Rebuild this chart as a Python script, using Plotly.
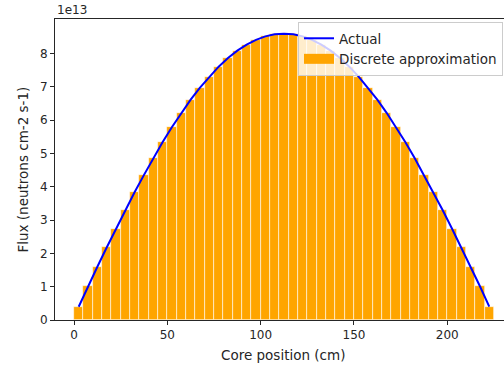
import plotly.graph_objects as go

# Core positions (cm) - bar centres
positions = [2.5, 7.5, 12.5, 17.5, 22.5, 27.5, 32.5, 37.5, 42.5, 47.5,
             52.5, 57.5, 62.5, 67.5, 72.5, 77.5, 82.5, 87.5, 92.5, 97.5,
             102.5, 107.5, 112.5, 117.5, 122.5, 127.5, 132.5, 137.5, 142.5, 147.5,
             152.5, 157.5, 162.5, 167.5, 172.5, 177.5, 182.5, 187.5, 192.5, 197.5,
             202.5, 207.5, 212.5, 217.5, 222.5]

# Discrete flux (neutrons cm-2 s-1)
discrete_flux = [0.399e13, 1.014e13, 1.599e13, 2.178e13, 2.746e13, 3.302e13, 3.842e13, 4.358e13,
                 4.865e13, 5.344e13, 5.796e13, 6.222e13, 6.617e13, 6.981e13, 7.312e13, 7.608e13,
                 7.867e13, 8.089e13, 8.272e13, 8.415e13, 8.518e13, 8.579e13, 8.600e13,
                 8.579e13, 8.518e13, 8.415e13, 8.272e13, 8.089e13, 7.867e13, 7.608e13,
                 7.312e13, 6.981e13, 6.617e13, 6.222e13, 5.796e13, 5.344e13, 4.865e13,
                 4.358e13, 3.842e13, 3.302e13, 2.746e13, 2.178e13, 1.599e13, 1.014e13, 0.399e13]

# Actual flux curve
actual_x = positions
actual_flux = discrete_flux

bar_width = 5
x_ticks = [0, 50, 100, 150, 200]
y_tick_vals = [0, 1e13, 2e13, 3e13, 4e13, 5e13, 6e13, 7e13, 8e13]
y_tick_text = ["0", "1", "2", "3", "4", "5", "6", "7", "8"]

FONT = "DejaVu Sans, Verdana, sans-serif"
TXT = "#262626"
ORANGE = "#FFA500"
LABEL_SIZE = 13.5

fig = go.Figure()
fig.add_trace(go.Bar(
    x=positions, y=discrete_flux, width=[bar_width] * len(positions),
    name="Discrete approximation", showlegend=False,
    marker=dict(color=ORANGE, line=dict(color="rgba(255,255,255,0.8)", width=0.7)),
))
fig.add_trace(go.Scatter(
    x=actual_x, y=actual_flux, mode="lines", name="Actual",
    line=dict(color="#0000FF", width=2),
))
# legend entry for bars drawn as a wide rectangle like matplotlib's patch
fig.add_trace(go.Scatter(
    x=[None], y=[None], mode="lines", name="Discrete approximation",
    line=dict(color=ORANGE, width=10),
))

W, H = 504, 370
L, R, T, B = 55, 0, 19, 50
fig.update_layout(
    width=W, height=H,
    margin=dict(l=L, r=R, t=T, b=B, pad=0),
    paper_bgcolor="white", plot_bgcolor="white",
    font=dict(family=FONT, size=12, color=TXT),
    bargap=0,
    showlegend=True,
    legend=dict(
        x=(298 - L) / (W - L), y=(320 - 22) / (320 - T),
        xanchor="left", yanchor="top",
        bgcolor="rgba(255,255,255,0.8)", bordercolor="#cccccc", borderwidth=1,
        font=dict(family=FONT, size=LABEL_SIZE, color=TXT),
        tracegroupgap=0,
    ),
    xaxis=dict(
        range=[-10.2, 230.4],
        tickvals=x_ticks, ticks="outside", ticklen=4, tickwidth=1, tickcolor="#262626",
        showline=True, linecolor="#262626", linewidth=1, mirror=True,
        showgrid=False, zeroline=False,
        tickfont=dict(family=FONT, size=12, color=TXT),
    ),
    yaxis=dict(
        range=[0, 9.04e13],
        tickvals=y_tick_vals, ticktext=y_tick_text,
        ticks="outside", ticklen=4, tickwidth=1, tickcolor="#262626",
        showline=True, linecolor="#262626", linewidth=1,
        showgrid=False, zeroline=False,
        tickfont=dict(family=FONT, size=12, color=TXT),
    ),
    annotations=[
        dict(text="Core position (cm)", xref="paper", yref="paper",
             x=(283 - L) / (W - L), y=-(355 - 320) / (320 - T),
             xanchor="center", yanchor="middle", showarrow=False,
             font=dict(family=FONT, size=LABEL_SIZE, color=TXT)),
        dict(text="Flux (neutrons cm-2 s-1)", xref="paper", yref="paper",
             x=-(L - 22) / (W - L), y=0.5, textangle=-90,
             xanchor="center", yanchor="middle", showarrow=False,
             font=dict(family=FONT, size=LABEL_SIZE, color=TXT)),
        dict(text="1e13", xref="paper", yref="paper",
             x=0, y=1 + (19 - 10.5) / (320 - T),
             xanchor="left", yanchor="middle", showarrow=False,
             font=dict(family=FONT, size=12, color=TXT)),
    ],
)

fig.write_html("out.html")
